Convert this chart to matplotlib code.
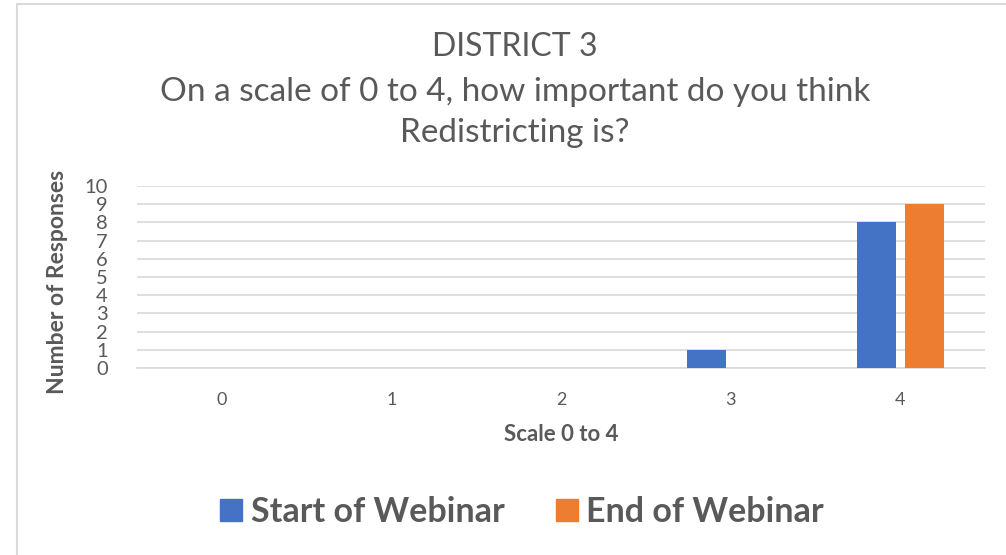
import matplotlib
matplotlib.use("Agg")
import matplotlib.pyplot as plt
import numpy as np
from matplotlib.patches import Patch, Rectangle

categories = ["0", "1", "2", "3", "4"]
start_values = [0, 0, 0, 1, 8]
end_values = [0, 0, 0, 0, 9]
series_names = ["Start of Webinar", "End of Webinar"]
y_ticks = list(range(0, 11))

plt.rcParams['font.family'] = ['Lato', 'DejaVu Sans']
TXT = "#595959"
BLUE = "#4472C4"
ORANGE = "#ED7D31"

W, H = 1006, 555
fig = plt.figure(figsize=(W / 100, H / 100), dpi=100)

# chart border (light gray, top & left visible)
fig.add_artist(Rectangle((17 / W, -0.1), 1.2, 1 - 4 / H + 0.1, transform=fig.transFigure,
                         fill=False, edgecolor="#d9d9d9", linewidth=1.5))

ax = fig.add_axes([137 / W, 1 - 368 / H, (985 - 137) / W, (368 - 186) / H])
x = np.arange(len(categories))
bw = 0.23
off = 0.142
ax.bar(x - off, start_values, bw, color=BLUE, zorder=3)
ax.bar(x + off, end_values, bw, color=ORANGE, zorder=3)

ax.set_xlim(-0.5, 4.5)
ax.set_ylim(0, 10)
ax.set_yticks(y_ticks)
ax.set_yticklabels([str(v) for v in y_ticks])
ax.set_xticks(x)
ax.set_xticklabels(categories)
ax.yaxis.grid(True, color="#d9d9d9", linewidth=1.2, zorder=0)
ax.set_axisbelow(True)
for s in ["top", "right", "left"]:
    ax.spines[s].set_visible(False)
ax.spines["bottom"].set_color("#d9d9d9")
ax.spines["bottom"].set_linewidth(1.2)
ax.tick_params(axis="both", length=0, colors=TXT)
ax.tick_params(axis="y", labelsize=14.5, pad=21)
ax.tick_params(axis="x", labelsize=13, pad=17)

ax.set_xlabel("Scale 0 to 4", fontsize=16, fontweight="bold", color=TXT, labelpad=12)
fig.text(58 / W, 1 - 282 / H, "Number of Responses", rotation=90, ha="center", va="center",
         fontsize=16.5, fontweight="bold", color=TXT)

fig.text(515 / W, 1 - 47 / H, "DISTRICT 3", ha="center", va="center", fontsize=23, color=TXT)
fig.text(515 / W, 1 - 92 / H, "On a scale of 0 to 4, how important do you think",
         ha="center", va="center", fontsize=24, color=TXT)
fig.text(515 / W, 1 - 133 / H, "Redistricting is?", ha="center", va="center", fontsize=24, color=TXT)

handles = [Patch(color=BLUE), Patch(color=ORANGE)]
leg = fig.legend(handles, series_names, loc="center", bbox_to_anchor=(522 / W, 1 - 512 / H),
                 ncol=2, frameon=False, handlelength=0.65, handleheight=0.65, handletextpad=0.25,
                 columnspacing=1.5, prop={"size": 24.5, "weight": "bold"})
for t in leg.get_texts():
    t.set_color(TXT)

fig.savefig("out.png", dpi=100, facecolor="white")
